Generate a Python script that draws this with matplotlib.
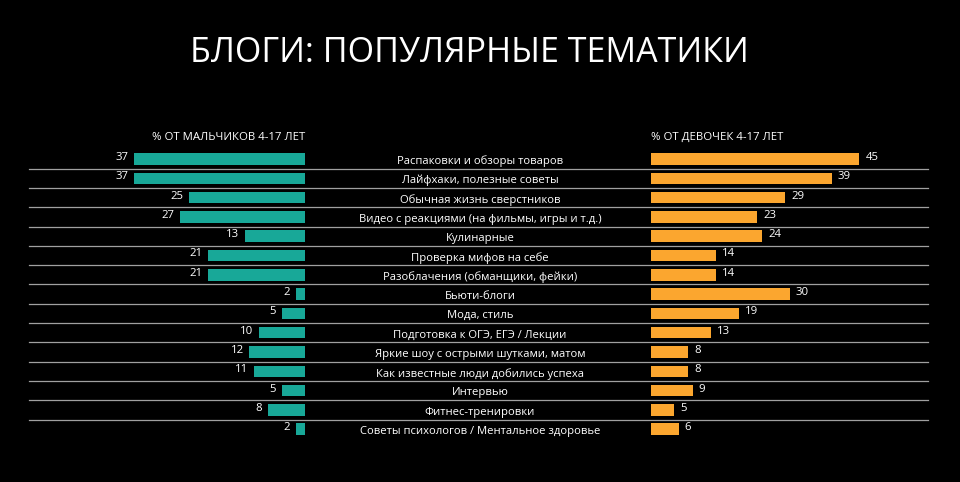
import numpy as np
import matplotlib
matplotlib.use("Agg")
import matplotlib.pyplot as plt

plt.rcParams['font.family'] = ['Open Sans', 'DejaVu Sans']

categories = [
    "Распаковки и обзоры товаров",
    "Лайфхаки, полезные советы",
    "Обычная жизнь сверстников",
    "Видео с реакциями (на фильмы, игры и т.д.)",
    "Кулинарные",
    "Проверка мифов на себе",
    "Разоблачения (обманщики, фейки)",
    "Бьюти-блоги",
    "Мода, стиль",
    "Подготовка к ОГЭ, ЕГЭ / Лекции",
    "Яркие шоу с острыми шутками, матом",
    "Как известные люди добились успеха",
    "Интервью",
    "Фитнес-тренировки",
    "Советы психологов / Ментальное здоровье",
]
boys = [37, 37, 25, 27, 13, 21, 21, 2, 5, 10, 12, 11, 5, 8, 2]
girls = [45, 39, 29, 23, 24, 14, 14, 30, 19, 13, 8, 8, 9, 5, 6]

title = "БЛОГИ: ПОПУЛЯРНЫЕ ТЕМАТИКИ"
boys_header = "% ОТ МАЛЬЧИКОВ 4-17 ЛЕТ"
girls_header = "% ОТ ДЕВОЧЕК 4-17 ЛЕТ"

teal = '#18a898'
orange = '#fba62f'
bg = '#000000'

W, H = 960, 482
px_per_unit = 4.63       # pixels per percentage point
row_px = 19.3            # row spacing in pixels
first_row_px = 159       # y of first row centre

fig = plt.figure(figsize=(W / 100, H / 100), dpi=100, facecolor=bg)
ax = fig.add_axes([0, 0, 1, 1])
ax.set_facecolor(bg)
half = W / 2 / px_per_unit
ax.set_xlim(-half, half)
ax.set_ylim((H - first_row_px) / row_px, -first_row_px / row_px)
ax.axis('off')

left_anchor = -175 / px_per_unit
right_anchor = 171 / px_per_unit
y = np.arange(len(categories))

ax.barh(y, boys, left=left_anchor - np.array(boys), height=0.6, color=teal)
ax.barh(y, girls, left=right_anchor, height=0.6, color=orange)

# separators
line_l = -451 / px_per_unit
line_r = 448 / px_per_unit
for i in range(len(categories) - 1):
    ax.plot([line_l, line_r], [i + 0.5, i + 0.5], color='#a0a0a0', lw=0.9)

for i, (cat, b, g) in enumerate(zip(categories, boys, girls)):
    ax.text(0, i + 0.12, cat, ha='center', va='center', color='white', fontsize=8.1)
    ax.text(left_anchor - b - 1.2, i - 0.08, str(b), ha='right', va='center',
            color='white', fontsize=8.2)
    ax.text(right_anchor + g + 1.3, i - 0.08, str(g), ha='left', va='center',
            color='white', fontsize=8.2)

fig.text(190 / W, 1 - 53 / H, title, ha='left', va='center', color='white', fontsize=24.5)
fig.text(305 / W, 1 - 137 / H, boys_header, ha='right', va='center', color='white', fontsize=8.2)
fig.text(651 / W, 1 - 137 / H, girls_header, ha='left', va='center', color='white', fontsize=8.2)

fig.savefig('out.png', dpi=100, facecolor=bg)
